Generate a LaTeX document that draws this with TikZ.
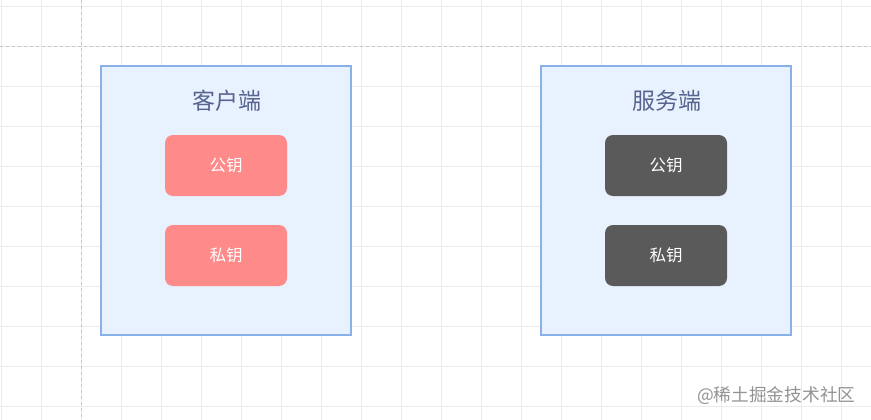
\documentclass[tikz,border=0pt]{standalone}
\usepackage{fontspec}
\newfontfamily\cjk{Noto Sans CJK SC}
\definecolor{gridgray}{HTML}{EBEBEB}
\definecolor{boxfill}{HTML}{E8F1FE}
\definecolor{boxline}{HTML}{8AB0E8}
\definecolor{titleblue}{HTML}{56648F}
\definecolor{keyred}{HTML}{FF8A8A}
\definecolor{keydark}{HTML}{5A5A5A}
\tikzset{
  side/.style={draw=boxline,line width=1.2pt,fill=boxfill,minimum width=250pt,minimum height=269pt,inner sep=0},
  sidetitle/.style={text=titleblue,font=\cjk\fontsize{23}{25}\selectfont},
  keybox/.style={rounded corners=8pt,minimum width=122pt,minimum height=61pt,text=white,font=\cjk\fontsize{16.5}{18}\selectfont,inner sep=0},
}
\begin{document}
\begin{tikzpicture}[x=1pt,y=-1pt]
\useasboundingbox (0,0) rectangle (871,420);
\fill[white] (0,0) rectangle (871,420);

% grid
\foreach \x in {1,41,...,841} \draw[gridgray,line width=0.8pt] (\x,0) -- (\x,420);
\foreach \y in {6,46,...,406} \draw[gridgray,line width=0.8pt] (0,\y) -- (871,\y);
\draw[gray!45,dashed,line width=0.8pt] (81,0) -- (81,420);
\draw[gray!45,dashed,line width=0.8pt] (0,46) -- (871,46);

% client
\node[side] (client) at (226,200.5) {};
\node[sidetitle] (clienttitle) at (227,101) {客户端};
\node[keybox,fill=keyred] (clientpub) at (226,165.5) {公钥};
\node[keybox,fill=keyred] (clientpriv) at (226,255.5) {私钥};

% server
\node[side] (server) at (666,200.5) {};
\node[sidetitle] (servertitle) at (667,101) {服务端};
\node[keybox,fill=keydark] (serverpub) at (666,165.5) {公钥};
\node[keybox,fill=keydark] (serverpriv) at (666,255.5) {私钥};

\node[text=gray!85,font=\cjk\fontsize{17.7}{19}\selectfont,anchor=east] (mark) at (859,396) {@稀土掘金技术社区};
\end{tikzpicture}
\end{document}
